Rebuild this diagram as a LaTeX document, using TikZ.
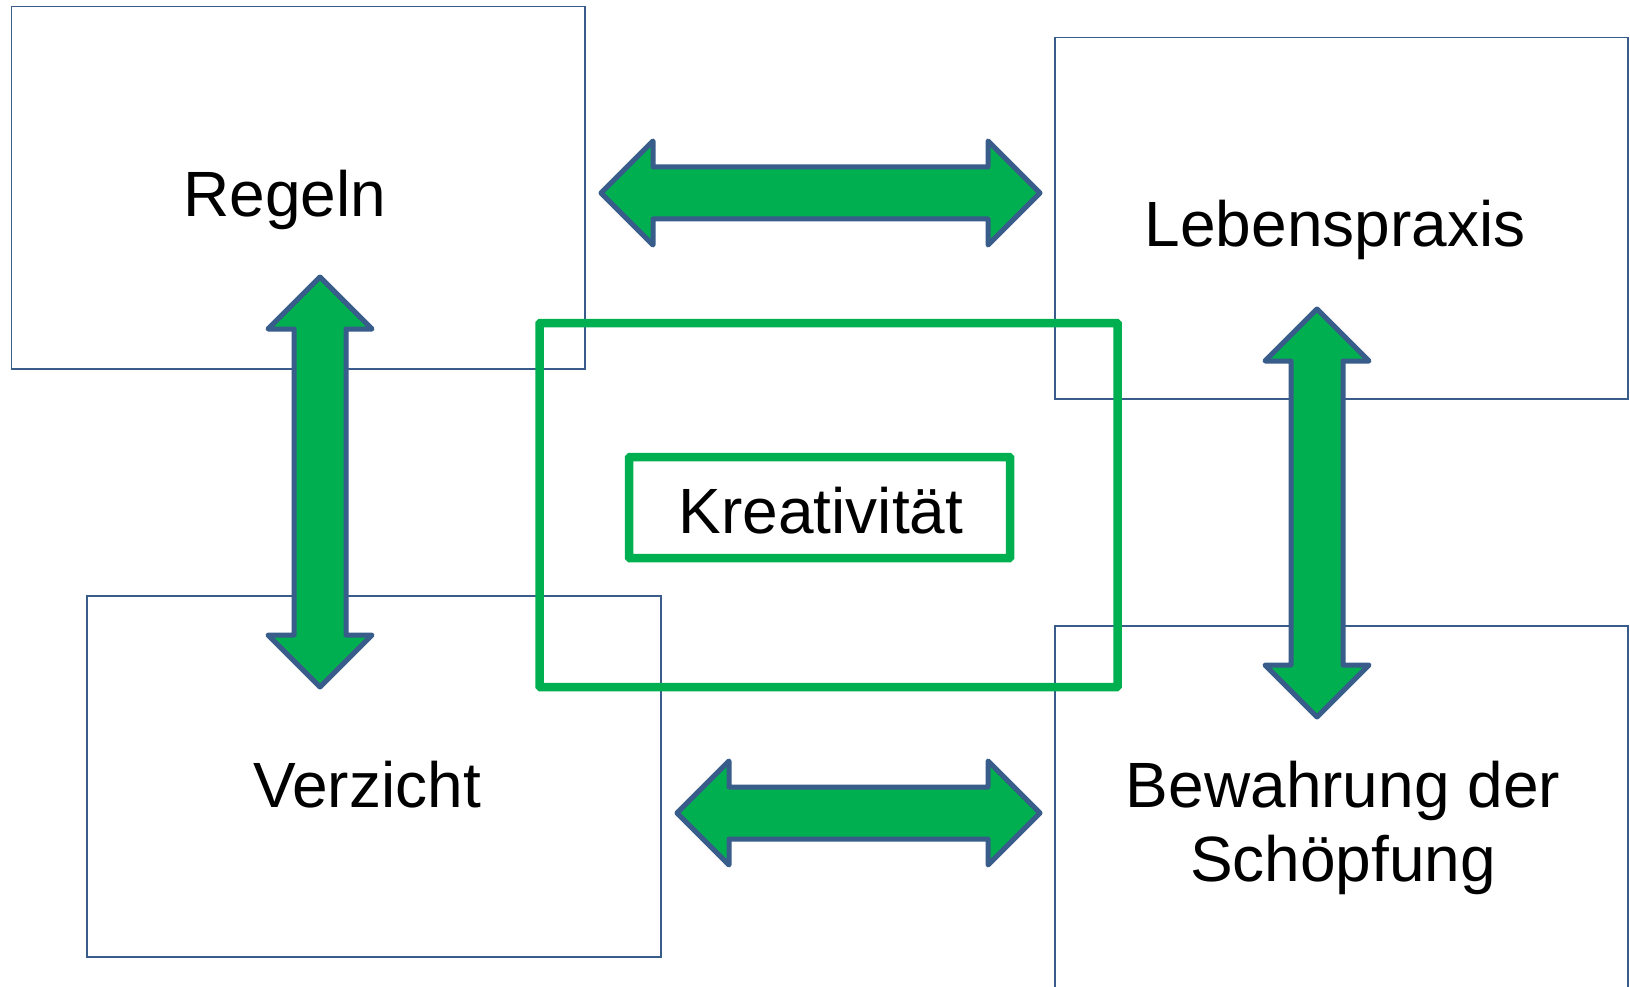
\documentclass[tikz,border=0pt]{standalone}
\usepackage{fontspec}
\setmainfont{Liberation Sans}
\usetikzlibrary{calc}
\definecolor{boxblue}{HTML}{385D8A}
\definecolor{arrgreen}{HTML}{00B050}
\tikzset{
  pbox/.style={draw=boxblue, line width=1.8pt},
  gbox/.style={draw=arrgreen, line width=8.5pt, rounded corners=1pt},
  blockarrow/.style={draw=boxblue, fill=arrgreen, line width=5pt, line join=round},
  lbl/.style={font=\fontsize{64}{74}\selectfont, anchor=base, inner sep=0pt, align=center},
}
\newcommand\dblarrowh[2]{\draw[blockarrow] (#1) -- ++(52,-52) -- ++(0,26) -- ($(#2)+(-52,-26)$) -- ++(0,-26) -- (#2) -- ++(-52,52) -- ++(0,-26) -- ($(#1)+(52,26)$) -- ++(0,26) -- cycle;}
\newcommand\dblarrowv[2]{\draw[blockarrow] (#1) -- ++(52,52) -- ++(-26,0) -- ($(#2)+(26,-52)$) -- ++(26,0) -- (#2) -- ++(-52,-52) -- ++(26,0) -- ($(#1)+(-26,52)$) -- ++(-26,0) -- cycle;}
\begin{document}
\begin{tikzpicture}[x=1pt,y=-1pt]
\useasboundingbox[fill=white] (0,0) rectangle (1630,987);
% boxes
\draw[pbox] (11.5,6.5) rectangle (585,369) node[pos=0.5] (regelnbox) {};
\draw[pbox] (1055,37.5) rectangle (1628,399) node[pos=0.5] (lebenbox) {};
\draw[pbox] (87,596) rectangle (661,957) node[pos=0.5] (verzichtbox) {};
\draw[pbox] (1055,626) rectangle (1628,1010) node[pos=0.5] (bewahrbox) {};
% green boxes
\draw[gbox] (539.5,323) rectangle (1117.5,687) node[pos=0.5] (outer) {};
\draw[gbox] (629,457) rectangle (1010,558) node[pos=0.5] (inner) {};
% labels
\node[lbl] (regeln) at (285,216) {Regeln};
\node[lbl] (leben) at (1335,246) {Lebenspraxis};
\node[lbl] (kreat) at (821,533) {Kreativität};
\node[lbl] (verzicht) at (367,807) {Verzicht};
\node[lbl] (bewahr1) at (1343,807) {Bewahrung der};
\node[lbl] (bewahr2) at (1343,881) {Schöpfung};
% arrows
\coordinate (ta) at (601,193);
\coordinate (tb) at (1040,193);
\coordinate (ba) at (677,813);
\coordinate (bb) at (1040,813);
\coordinate (la) at (320,277);
\coordinate (lb) at (320,687);
\coordinate (ra) at (1317,309);
\coordinate (rb) at (1317,717);
\dblarrowh{ta}{tb}
\dblarrowh{ba}{bb}
\dblarrowv{la}{lb}
\dblarrowv{ra}{rb}
\end{tikzpicture}
\end{document}
